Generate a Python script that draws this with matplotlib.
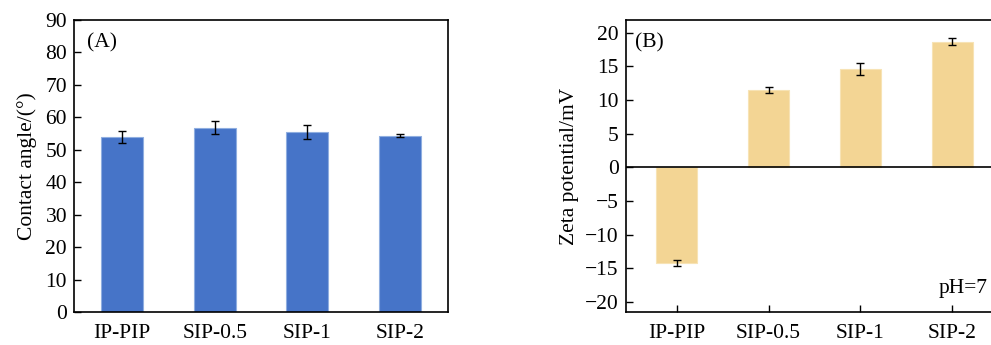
import numpy as np
import matplotlib
matplotlib.use("Agg")
import matplotlib.pyplot as plt

# data
samples = ["IP-PIP", "SIP-0.5", "SIP-1", "SIP-2"]
contact_angle = [54.0, 56.8, 55.5, 54.3]
contact_err = [1.8, 2.0, 2.1, 0.5]
zeta = [-14.2, 11.5, 14.6, 18.7]
zeta_err = [0.4, 0.5, 0.9, 0.5]

plt.rcParams["font.family"] = ["Liberation Serif", "DejaVu Serif"]
plt.rcParams["font.size"] = 15.5

fig = plt.figure(figsize=(9.91, 3.45), dpi=100)
x = np.arange(len(samples))

# (A) contact angle
ax1 = fig.add_axes([74 / 991, 1 - 312 / 345, 374 / 991, 292 / 345])
ax1.bar(x, contact_angle, width=0.45, color="#4674C8", edgecolor="#8FAEE0", linewidth=0.8)
ax1.errorbar(x, contact_angle, yerr=contact_err, fmt="none", ecolor="black",
             elinewidth=1.0, capsize=3, capthick=1.0)
ax1.set_xlim(-0.52, 3.52)
ax1.set_ylim(0, 90)
ax1.set_yticks(np.arange(0, 91, 10))
ax1.set_xticks(x)
ax1.set_xticklabels(samples)
ax1.tick_params(axis="y", direction="in", length=5, width=1, pad=5)
ax1.tick_params(axis="x", length=0, pad=9)
ax1.set_ylabel("Contact angle/(°)", labelpad=6)
ax1.text(0.035, 0.955, "(A)", transform=ax1.transAxes, ha="left", va="top")
for s in ax1.spines.values():
    s.set_linewidth(1.2)

# (B) zeta potential
ax2 = fig.add_axes([625.5 / 991, 1 - 312 / 345, 378 / 991, 292 / 345])
ax2.bar(x, zeta, width=0.45, color="#F3D594", edgecolor="#F7E3B5", linewidth=0.8)
ax2.errorbar(x, zeta, yerr=zeta_err, fmt="none", ecolor="black",
             elinewidth=1.0, capsize=3, capthick=1.0)
ax2.axhline(0, color="black", linewidth=1.2)
ax2.set_xlim(-0.555, 3.555)
ax2.set_ylim(-21.5, 21.9)
ax2.set_yticks(np.arange(-20, 21, 5))
ax2.set_yticklabels([str(v).replace("-", "\u2212") for v in range(-20, 21, 5)])
ax2.set_xticks(x)
ax2.set_xticklabels(samples)
ax2.tick_params(axis="y", direction="in", length=5, width=1, pad=5)
ax2.tick_params(axis="x", direction="in", length=5, width=1, pad=9)
ax2.set_ylabel("Zeta potential/mV", labelpad=4)
ax2.text(0.025, 0.955, "(B)", transform=ax2.transAxes, ha="left", va="top")
ax2.text(963 / 991, 1 - 288 / 345, "pH=7", transform=fig.transFigure,
         ha="center", va="center")
for s in ax2.spines.values():
    s.set_linewidth(1.2)

fig.savefig("out.png", dpi=100)
